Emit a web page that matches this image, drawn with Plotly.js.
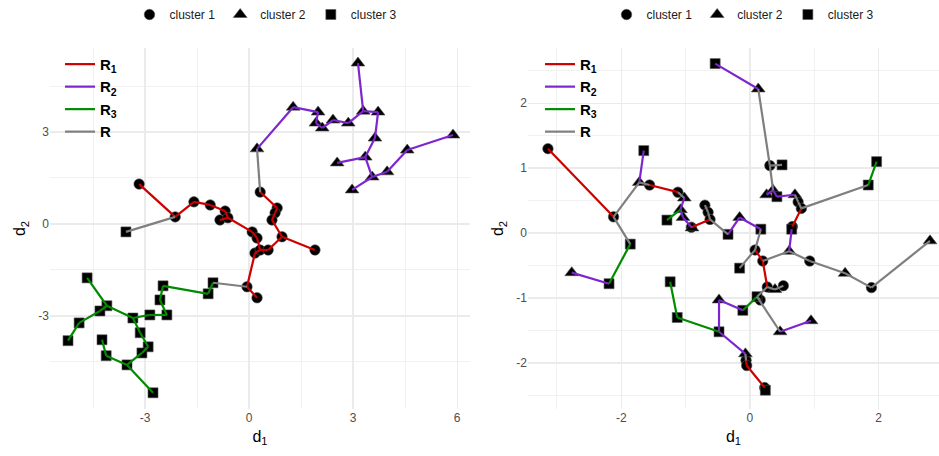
<!DOCTYPE html>
<html>
<head>
<meta charset="utf-8">
<script src="https://cdn.plot.ly/plotly-3.0.1.min.js"></script>
<style>
  html, body { margin: 0; padding: 0; background: #fff; }
  #chart { width: 939px; height: 456px; }
</style>
</head>
<body>
<div id="chart"></div>
<script>
// ---- Left panel: points per cluster (ids a1.., b1.., c1.. by position) ----
const leftCircleX = [-3.17, -2.13, -1.59, -1.12, -0.84, -0.69, -0.61, 0.09, 0.23, 0.17, 0.32, 0.55, 0.95, 1.90, 0.32, 0.81, 0.75, 0.66, -0.06, 0.23];
const leftCircleY = [1.30, 0.23, 0.72, 0.62, 0.13, 0.42, 0.20, -0.26, -0.46, -0.95, -0.85, -0.85, -0.42, -0.85, 1.04, 0.52, 0.36, 0.13, -2.05, -2.41];
const leftTriangleX = [0.23, 1.27, 1.99, 1.93, 2.11, 2.42, 2.86, 3.29, 3.72, 3.14, 3.63, 3.35, 2.54, 3.55, 2.97, 3.98, 4.56, 5.88];
const leftTriangleY = [2.45, 3.81, 3.65, 3.29, 3.13, 3.39, 3.29, 3.68, 3.65, 5.25, 2.80, 2.18, 1.99, 1.53, 1.11, 1.70, 2.41, 2.90];
const leftSquareX = [-3.55, -4.67, -4.10, -4.30, -4.90, -5.22, -3.35, -2.86, -2.37, -2.57, -2.48, -3.14, -2.91, -3.09, -3.52, -4.24, -4.12, -2.77, -1.18, -1.04];
const leftSquareY = [-0.26, -1.76, -2.67, -2.84, -3.23, -3.81, -3.07, -2.97, -2.97, -2.48, -2.02, -3.55, -4.01, -4.21, -4.60, -3.78, -4.30, -5.51, -2.28, -1.92];

// ---- Left panel: tree edges, grouped by colour ----
const leftEdgesR1 = [["a1","a2"],["a2","a3"],["a3","a4"],["a4","a6"],["a6","a7"],["a7","a5"],["a7","a8"],["a8","a9"],["a9","a11"],["a11","a10"],["a11","a12"],["a12","a13"],["a13","a14"],["a13","a18"],["a18","a17"],["a17","a16"],["a16","a15"],["a10","a19"],["a19","a20"]];
const leftEdgesR2 = [["b1","b2"],["b2","b3"],["b3","b4"],["b4","b5"],["b5","b6"],["b6","b7"],["b7","b8"],["b8","b9"],["b8","b10"],["b9","b11"],["b11","b12"],["b12","b13"],["b12","b14"],["b14","b15"],["b14","b16"],["b16","b17"],["b17","b18"]];
const leftEdgesR3 = [["c2","c3"],["c3","c4"],["c4","c5"],["c5","c6"],["c3","c7"],["c7","c8"],["c8","c9"],["c9","c10"],["c10","c11"],["c11","c19"],["c19","c20"],["c7","c12"],["c12","c13"],["c13","c14"],["c14","c15"],["c15","c17"],["c17","c16"],["c15","c18"]];
const leftEdgesR = [["a15","b1"],["a2","c1"],["a19","c20"]];

// ---- Right panel: points per cluster ----
const rightCircleX = [-3.14, -2.12, -1.56, -1.12, -0.70, -0.65, -0.62, -0.91, 0.31, 0.75, 0.80, 0.66, 0.08, 0.20, 0.93, 1.89, 0.27, 0.52, 0.16, -0.06, -0.05, 0.23];
const rightCircleY = [1.30, 0.25, 0.74, 0.63, 0.43, 0.32, 0.21, 0.09, 1.04, 0.48, 0.38, 0.10, -0.26, -0.43, -0.43, -0.84, -0.83, -0.81, -1.03, -1.96, -2.04, -2.38];
const rightTriangleX = [-2.77, -1.72, -1.02, -1.08, -1.04, -0.90, -0.16, 0.13, 0.26, 0.36, 0.70, 0.61, 1.48, 2.80, -0.48, 0.47, 0.95, -0.07, 0.39];
const rightTriangleY = [-0.61, 0.78, 0.54, 0.36, 0.24, 0.08, 0.24, 2.22, 0.59, 0.66, 0.59, -0.28, -0.62, -0.12, -1.03, -1.52, -1.35, -1.86, -0.87];
const rightSquareX = [-1.65, -1.29, -1.86, -2.19, -0.34, 0.17, -0.54, 0.50, 0.42, 0.65, 1.84, 1.97, -0.16, 0.11, -0.11, -0.48, -1.24, -1.13, 0.24];
const rightSquareY = [1.27, 0.20, -0.17, -0.78, -0.02, 0.06, 2.61, 1.05, 0.56, 0.06, 0.74, 1.10, -0.54, -0.98, -1.19, -1.52, -0.75, -1.30, -2.42];

// ---- Right panel: tree edges, grouped by colour ----
const rightEdgesR1 = [["a1","a2"],["a3","a4"],["a8","a7"],["a11","a12"],["a13","a14"],["a14","a17"],["a20","a21"],["a21","a22"]];
const rightEdgesR2 = [["c1","b2"],["b3","b4"],["b4","b5"],["b5","b6"],["c7","b8"],["c5","b7"],["b7","c6"],["b9","b10"],["b10","c9"],["c9","b11"],["c10","b12"],["b1","c4"],["b15","c15"],["b15","c16"],["c16","b18"],["b16","b17"]];
const rightEdgesR3 = [["c2","b4"],["c3","c4"],["c11","c12"],["c17","c18"],["c18","c16"],["c15","c14"]];
const rightEdgesR = [["a2","b2"],["a2","c3"],["b2","a3"],["a4","b3"],["a5","a6"],["a6","a7"],["a7","c5"],["c6","a13"],["b8","a9"],["a9","c8"],["a9","b10"],["b11","a10"],["a10","a11"],["a11","c11"],["a13","c13"],["a14","b12"],["b12","a15"],["a15","b13"],["b13","a16"],["a16","b14"],["c14","a17"],["a17","b19"],["b19","a18"],["c14","b16"],["a19","c14"],["b18","a20"]];

// ---- Labels ----
const clusterNames = ["cluster 1", "cluster 2", "cluster 3"];
const regionNames = ["<b>R<sub>1</sub></b>", "<b>R<sub>2</sub></b>", "<b>R<sub>3</sub></b>", "<b>R</b>"];
const leftXTicks = [-3, 0, 3, 6];
const leftYTicks = [-3, 0, 3];
const rightXTicks = [-2, 0, 2];
const rightYTicks = [-2, -1, 0, 1, 2];

// ---- Styling ----
const FONT = "Liberation Sans, Arial, Helvetica, sans-serif";
const regionColors = ["#CD0000", "#7D26CD", "#008B00", "#7F7F7F"];
const symbols = ["circle", "triangle-up", "square"];
const symbolSizes = [10.5, 12, 10];

function pointMap(cx, cy, tx, ty, sx, sy) {
  const m = {};
  cx.forEach((v, i) => { m["a" + (i + 1)] = [v, cy[i]]; });
  tx.forEach((v, i) => { m["b" + (i + 1)] = [v, ty[i]]; });
  sx.forEach((v, i) => { m["c" + (i + 1)] = [v, sy[i]]; });
  return m;
}

function edgeTrace(edges, pts, name, color, xa, ya, legend) {
  const x = [], y = [];
  edges.forEach(([p, q]) => {
    x.push(pts[p][0], pts[q][0], null);
    y.push(pts[p][1], pts[q][1], null);
  });
  return {
    type: "scatter", mode: "lines", x, y, name,
    xaxis: xa, yaxis: ya, legend, connectgaps: false,
    line: { color, width: 2.2 }, hoverinfo: "skip"
  };
}

function markerTrace(x, y, k, xa, ya, legend) {
  return {
    type: "scatter", mode: "markers", x, y, name: clusterNames[k],
    xaxis: xa, yaxis: ya, legend,
    marker: { symbol: symbols[k], size: symbolSizes[k], color: "#000",
              line: { color: "#555", width: 0.6 } },
    hoverinfo: "skip"
  };
}

const leftPts = pointMap(leftCircleX, leftCircleY, leftTriangleX, leftTriangleY, leftSquareX, leftSquareY);
const rightPts = pointMap(rightCircleX, rightCircleY, rightTriangleX, rightTriangleY, rightSquareX, rightSquareY);

const traces = [
  markerTrace(leftCircleX, leftCircleY, 0, "x", "y", "legend"),
  markerTrace(leftTriangleX, leftTriangleY, 1, "x", "y", "legend"),
  markerTrace(leftSquareX, leftSquareY, 2, "x", "y", "legend"),
  markerTrace(rightCircleX, rightCircleY, 0, "x2", "y2", "legend2"),
  markerTrace(rightTriangleX, rightTriangleY, 1, "x2", "y2", "legend2"),
  markerTrace(rightSquareX, rightSquareY, 2, "x2", "y2", "legend2"),
  edgeTrace(leftEdgesR1, leftPts, regionNames[0], regionColors[0], "x", "y", "legend3"),
  edgeTrace(leftEdgesR2, leftPts, regionNames[1], regionColors[1], "x", "y", "legend3"),
  edgeTrace(leftEdgesR3, leftPts, regionNames[2], regionColors[2], "x", "y", "legend3"),
  edgeTrace(leftEdgesR, leftPts, regionNames[3], regionColors[3], "x", "y", "legend3"),
  edgeTrace(rightEdgesR1, rightPts, regionNames[0], regionColors[0], "x2", "y2", "legend4"),
  edgeTrace(rightEdgesR2, rightPts, regionNames[1], regionColors[1], "x2", "y2", "legend4"),
  edgeTrace(rightEdgesR3, rightPts, regionNames[2], regionColors[2], "x2", "y2", "legend4"),
  edgeTrace(rightEdgesR, rightPts, regionNames[3], regionColors[3], "x2", "y2", "legend4")
];

const GRID = "#ebebeb";
// tick labels written with a plain hyphen for negatives
const tickText = (vals) => vals.map((v) => String(v));
function axis(extra) {
  return Object.assign({
    showgrid: true, gridcolor: GRID, gridwidth: 1.3,
    zeroline: false, showline: false, ticks: "",
    tickmode: "array",
    tickfont: { family: FONT, size: 12, color: "#4d4d4d" },
    automargin: false, fixedrange: true
  }, extra);
}
function minor(vals) {
  return { tickmode: "array", tickvals: vals, showgrid: true, gridcolor: "#f0f0f0", gridwidth: 0.9, ticks: "" };
}
const titleFont = { family: FONT, size: 16, color: "#000" };

const yDomain = [0.103, 0.8947];

const topLegend = (xc) => ({
  orientation: "h", x: xc, xanchor: "center", y: 1.0, yanchor: "top",
  font: { family: FONT, size: 12, color: "#1a1a1a" },
  bgcolor: "rgba(0,0,0,0)", itemclick: false, itemdoubleclick: false
});
const innerLegend = (xl) => ({
  orientation: "v", x: xl, xanchor: "left", y: 0.895, yanchor: "top",
  font: { family: FONT, size: 15, color: "#000" },
  bgcolor: "rgba(0,0,0,0)", tracegroupgap: 0,
  itemclick: false, itemdoubleclick: false
});

const layout = {
  width: 939, height: 456,
  margin: { l: 0, r: 0, t: 0, b: 0 },
  paper_bgcolor: "#fff", plot_bgcolor: "#fff",
  font: { family: FONT },
  showlegend: true,
  xaxis: axis({ domain: [50 / 939, 470 / 939], range: [-5.74, 6.37],
                tickvals: leftXTicks, ticktext: tickText(leftXTicks),
                minor: minor([-4.5, -1.5, 1.5, 4.5]),
                title: { text: "d<sub>1</sub>", font: titleFont, standoff: 6 }, anchor: "y" }),
  yaxis: axis({ domain: yDomain, range: [-6.04, 5.74],
                tickvals: leftYTicks, ticktext: tickText(leftYTicks),
                minor: minor([-4.5, -1.5, 1.5, 4.5]),
                title: { text: "d<sub>2</sub>", font: titleFont, standoff: 8 }, anchor: "x" }),
  xaxis2: axis({ domain: [528 / 939, 1], range: [-3.45, 2.94],
                 tickvals: rightXTicks, ticktext: tickText(rightXTicks),
                 minor: minor([-3, -1, 1]),
                 title: { text: "d<sub>1</sub>", font: titleFont, standoff: 6 }, anchor: "y2" }),
  yaxis2: axis({ domain: yDomain, range: [-2.71, 2.85],
                 tickvals: rightYTicks, ticktext: tickText(rightYTicks),
                 minor: minor([-2.5, -1.5, -0.5, 0.5, 1.5, 2.5]),
                 title: { text: "d<sub>2</sub>", font: titleFont, standoff: 8 }, anchor: "x2" }),
  legend: topLegend(266 / 939),
  legend2: topLegend(743 / 939),
  legend3: innerLegend(60 / 939),
  legend4: innerLegend(540 / 939)
};

Plotly.newPlot("chart", traces, layout, { displayModeBar: false, staticPlot: true });
</script>
</body>
</html>
